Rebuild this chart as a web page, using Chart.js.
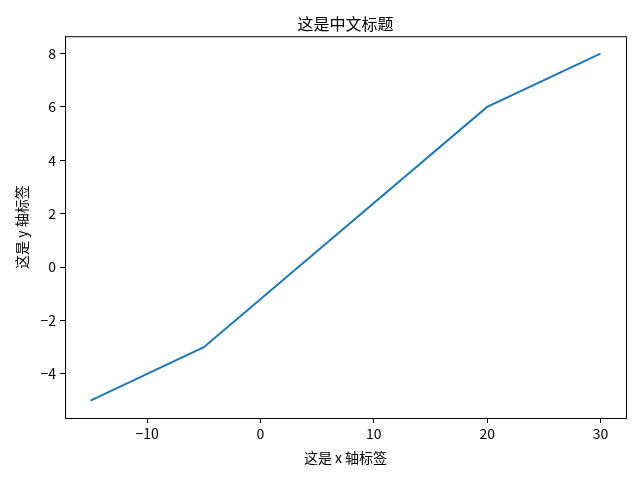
<!DOCTYPE html>
<html>
<head>
<meta charset="utf-8">
<script src="https://cdn.jsdelivr.net/npm/chart.js@4/dist/chart.umd.min.js"></script>
<style>
  html, body { margin: 0; padding: 0; background: #fff; }
  #wrap { width: 640px; height: 480px; }
</style>
</head>
<body>
<div id="wrap"><canvas id="grafico" width="640" height="480"></canvas></div>
<script>
// Dados do gráfico
const xValues = [-15, -5, 20, 30];
const yValues = [-5, -3, 6, 8];
const xTicks = [-10, 0, 10, 20, 30];
const yTicks = [-4, -2, 0, 2, 4, 6, 8];

const FONTE = "'Noto Sans CJK SC', 'DejaVu Sans', sans-serif";

// Centraliza o título sobre a área do gráfico e desenha as bordas superior e direita
const molduraPlugin = {
  id: 'moldura',
  afterLayout(chart) {
    const a = chart.chartArea;
    if (chart.titleBlock) {
      chart.titleBlock.left = a.left;
      chart.titleBlock.right = a.right;
      chart.titleBlock.width = a.right - a.left;
    }
  },
  afterDraw(chart) {
    const { ctx, chartArea: a } = chart;
    ctx.save();
    ctx.strokeStyle = '#000';
    ctx.lineWidth = 1;
    ctx.beginPath();
    ctx.moveTo(a.left, a.top + 0.5);
    ctx.lineTo(a.right + 0.5, a.top + 0.5);
    ctx.lineTo(a.right + 0.5, a.bottom);
    ctx.stroke();
    ctx.restore();
  }
};

const menos = v => String(v).replace('-', '\u2212');

const ctx = document.getElementById('grafico').getContext('2d');
new Chart(ctx, {
  type: 'scatter',
  data: {
    datasets: [{
      data: xValues.map((x, i) => ({ x, y: yValues[i] })),
      showLine: true,
      borderColor: '#1f77b4',
      backgroundColor: '#1f77b4',
      borderWidth: 2,
      pointRadius: 0,
      tension: 0
    }]
  },
  options: {
    responsive: false,
    devicePixelRatio: 1,
    animation: false,
    layout: { padding: { left: 0, right: 14, top: 0, bottom: 0 } },
    plugins: {
      legend: { display: false },
      tooltip: { enabled: false },
      title: {
        display: true,
        text: '这是中文标题',
        color: '#000',
        font: { family: FONTE, size: 16, weight: 'normal' },
        padding: { top: 14, bottom: 3 }
      }
    },
    scales: {
      x: {
        type: 'linear',
        min: -17.25,
        max: 32.25,
        afterBuildTicks: s => { s.ticks = xTicks.map(v => ({ value: v })); },
        afterFit: s => { s.height = 62; },
        ticks: {
          color: '#000',
          font: { family: FONTE, size: 14 },
          padding: 2,
          maxRotation: 0,
          callback: v => menos(v)
        },
        grid: { display: true, drawOnChartArea: false, drawTicks: true, tickLength: 5, color: '#000' },
        border: { display: true, color: '#000', width: 1 },
        title: {
          display: true,
          text: '这是 x 轴标签',
          color: '#000',
          font: { family: FONTE, size: 14 },
          padding: { top: 0, bottom: 14 }
        }
      },
      y: {
        type: 'linear',
        min: -5.65,
        max: 8.65,
        afterBuildTicks: s => { s.ticks = yTicks.map(v => ({ value: v })); },
        afterFit: s => { s.width = 65; },
        ticks: {
          color: '#000',
          font: { family: FONTE, size: 14 },
          padding: 4,
          callback: v => menos(v)
        },
        grid: { display: true, drawOnChartArea: false, drawTicks: true, tickLength: 5, color: '#000' },
        border: { display: true, color: '#000', width: 1 },
        title: {
          display: true,
          text: '这是 y 轴标签',
          color: '#000',
          font: { family: FONTE, size: 14 },
          padding: { top: 13, bottom: 0 }
        }
      }
    }
  },
  plugins: [molduraPlugin]
});
</script>
</body>
</html>
